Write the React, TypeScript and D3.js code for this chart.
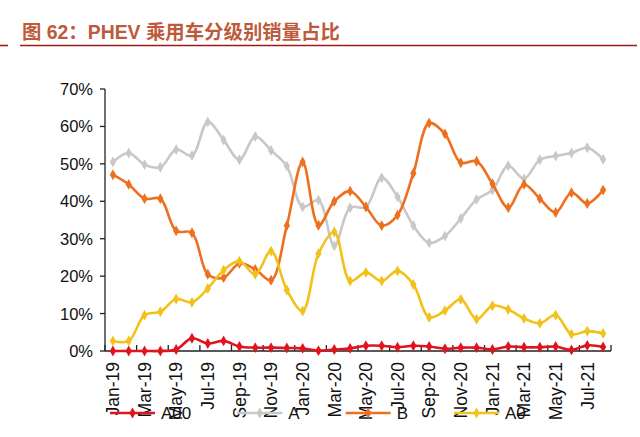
import React from "react";
import * as d3 from "d3";

const months = [
  "Jan-19","Feb-19","Mar-19","Apr-19","May-19","Jun-19","Jul-19","Aug-19","Sep-19","Oct-19","Nov-19","Dec-19",
  "Jan-20","Feb-20","Mar-20","Apr-20","May-20","Jun-20","Jul-20","Aug-20","Sep-20","Oct-20","Nov-20","Dec-20",
  "Jan-21","Feb-21","Mar-21","Apr-21","May-21","Jun-21","Jul-21","Aug-21",
];

const seriesA00 = [0,0,0,0,0.4,3.4,2.0,2.7,1.2,0.9,0.9,0.8, 0.7,0.1,0.4,0.7,1.4,1.4,1.0,1.4,1.2,0.6,0.9,0.9, 0.4,1.2,1.0,1.0,1.2,0.3,1.5,1.1];
const seriesA = [50.5,52.9,49.8,49.1,53.8,52.2,61.2,56.4,51.1,57.3,53.6,49.4, 38.5,40.3,28.1,38.3,38.5,46.3,41.2,33.5,28.9,30.7,35.4,40.5, 43.0,49.5,46.0,51.1,52.1,52.9,54.3,51.2];
const seriesB = [47.1,44.5,40.7,40.7,32.1,31.6,20.5,19.6,23.4,21.8,18.9,33.5, 50.5,33.6,40.0,42.7,38.5,33.5,36.3,47.5,60.9,58.0,50.3,50.7, 44.7,38.3,44.5,40.7,37.0,42.3,39.4,43.0];
const seriesA0 = [2.7,2.7,9.6,10.5,13.9,13.0,16.7,21.6,24.0,20.5,26.7,16.3, 10.7,26.0,31.8,18.7,21.0,18.7,21.4,17.8,9.0,10.8,13.8,8.5, 12.1,11.1,8.7,7.4,9.6,4.5,5.3,4.7];

const seriesNames = ["A00", "A", "B", "A0"];
const seriesColors = ["#E0141E", "#C8C8C8", "#EE6F1E", "#F2C21B"];
const seriesValues = [seriesA00, seriesA, seriesB, seriesA0];
const yTicks = [0, 10, 20, 30, 40, 50, 60, 70];
const titleText = "图 62：PHEV 乘用车分级别销量占比";

const FONT = "'Liberation Sans', Arial, 'Noto Sans CJK SC', sans-serif";

export default function App() {
  const W = 640, H = 437;
  const left = 105, right = 611, top = 89, bottom = 351;
  const x = d3.scaleBand<string>().domain(months).range([left, right]).paddingInner(0).paddingOuter(0);
  const y = d3.scaleLinear().domain([0, 70]).range([bottom, top]);
  const bw = x.bandwidth();
  const cx = (m: string) => (x(m) as number) + bw / 2;

  const line = d3.line<number>()
    .x((_, i) => cx(months[i]))
    .y((v) => y(v))
    .curve(d3.curveCatmullRom.alpha(0.5));

  const diamond = d3.symbol().type(d3.symbolDiamond).size(34)();

  // legend layout
  const legendY = 413;
  const lineLen = 45;
  const legendFont = 17;
  const labelWidths = seriesNames.map((n) => (n === "A00" ? 1.78 : n === "A0" ? 1.22 : 0.67) * legendFont);
  let lx = 110;
  const legendX: number[] = [];
  seriesNames.forEach((_, i) => {
    legendX.push(lx);
    lx += lineLen + 6 + labelWidths[i] + 46;
  });

  return (
    <svg width={W} height={H} style={{ position: "absolute", left: 0, top: 0, background: "#fff" }} fontFamily={FONT}>
      {/* title */}
      <text x={22} y={39} fontSize={19.4} fontWeight="bold" fill="#BE5A3C">{titleText}</text>
      <line x1={20} x2={637} y1={45.5} y2={45.5} stroke="#9B1B1B" strokeWidth={1.6} />
      <line x1={0} x2={8} y1={45.5} y2={45.5} stroke="#9B1B1B" strokeWidth={1.6} />

      {/* y axis */}
      <line x1={left} x2={left} y1={top} y2={bottom} stroke="#222" strokeWidth={1.3} />
      {yTicks.map((t) => (
        <g key={t}>
          <line x1={left - 5} x2={left} y1={y(t)} y2={y(t)} stroke="#222" strokeWidth={1.3} />
          <text x={left - 12} y={y(t)} dy="0.36em" textAnchor="end" fontSize={16.5} fill="#111">{t}%</text>
        </g>
      ))}

      {/* x axis */}
      <line x1={left} x2={right} y1={bottom} y2={bottom} stroke="#222" strokeWidth={1.3} />
      {months.map((m, i) => (i % 2 === 0 ? (
        <line key={"t" + m} x1={x(m) as number} x2={x(m) as number} y1={bottom} y2={bottom - 6} stroke="#222" strokeWidth={1.3} />
      ) : null))}
      <line x1={right} x2={right} y1={bottom} y2={bottom - 6} stroke="#222" strokeWidth={1.3} />
      {months.map((m, i) => (i % 2 === 0 ? (
        <text key={"l" + m} transform={`translate(${cx(m)},${bottom + 11}) rotate(-90)`} textAnchor="end" dy="0.36em" fontSize={17.5} fill="#111">{m}</text>
      ) : null))}

      {/* series */}
      {seriesValues.map((vals, si) => (
        <g key={seriesNames[si]}>
          <path d={line(vals) || ""} fill="none" stroke={seriesColors[si]} strokeWidth={2.6} />
          {vals.map((v, i) => (
            <path key={i} d={diamond || ""} transform={`translate(${cx(months[i])},${y(v)})`} fill={seriesColors[si]} />
          ))}
        </g>
      ))}

      {/* legend */}
      {seriesNames.map((n, i) => (
        <g key={"lg" + n}>
          <line x1={legendX[i]} x2={legendX[i] + lineLen} y1={legendY} y2={legendY} stroke={seriesColors[i]} strokeWidth={2.6} />
          <path d={diamond || ""} transform={`translate(${legendX[i] + lineLen / 2},${legendY})`} fill={seriesColors[i]} />
          <text x={legendX[i] + lineLen + 6} y={legendY} dy="0.36em" fontSize={legendFont} fill="#111">{n}</text>
        </g>
      ))}
    </svg>
  );
}
